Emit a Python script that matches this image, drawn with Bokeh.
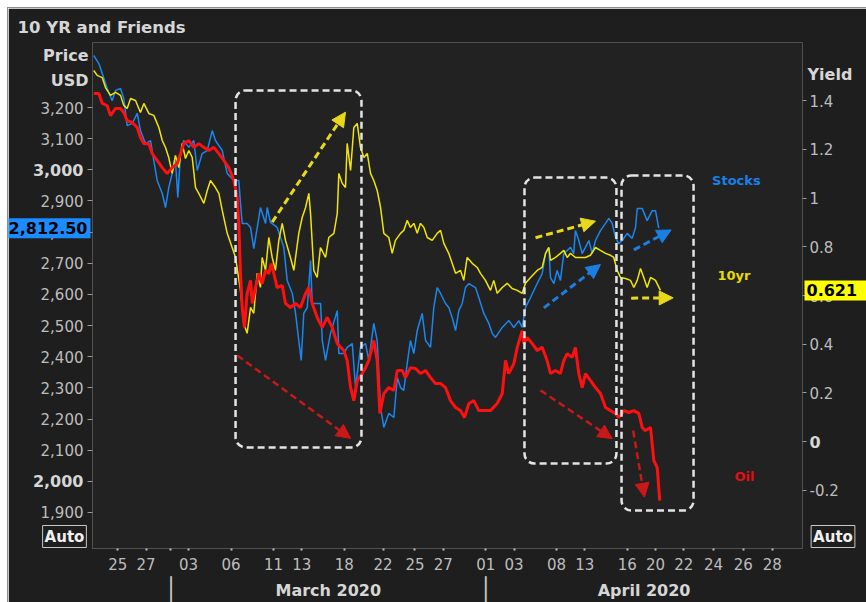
import json
from bokeh.plotting import figure
from bokeh.models import (Range1d, LinearAxis, FixedTicker, CustomJSTickFormatter,
                          Label, Arrow, NormalHead, BoxAnnotation)
from bokeh.embed import file_html
from bokeh.resources import INLINE

FONT = "DejaVu Sans"

# ---------------- data (x = trading-session index, Feb 24 2020 = 0) ----------------
stocks = [(-0.70,3367),(-0.34,3341),(-0.10,3309),(0.25,3261),(0.60,3222),(0.84,3255),(1.19,3261),
          (1.42,3229),(1.66,3142),(2.02,3149),(2.37,3181),(2.60,3126),(2.96,3084),(3.31,3094),
          (3.54,3030),(3.78,2966),(4.14,2924),(4.37,2879),(4.60,2943),(4.84,2988),(5.07,3030),
          (5.24,2911),(5.43,3052),(5.66,3094),(6.02,3072),(6.37,3094),(6.61,2998),(6.96,3052),
          (7.32,3062),(7.67,3126),(7.90,3094),(8.38,3062),(8.73,2988),(9.20,2966),(9.55,2966),
          (9.67,2892),(9.79,2828),(10.14,2828),(10.38,2815),(10.61,2747),(11.08,2879),(11.44,2828),
          (11.56,2879),(11.79,2831),(12.26,2815),(12.73,2751),(12.97,2645),(13.33,2603),(13.56,2539),
          (13.79,2452),(13.96,2388),(14.14,2539),(14.39,2558),(14.62,2709),(14.74,2571),(15.33,2571),
          (15.45,2452),(15.68,2388),(16.03,2475),(16.51,2548),(16.62,2410),(16.97,2410),(17.21,2430),
          (17.57,2442),(17.80,2301),(18.15,2430),(18.51,2442),(18.74,2388),(19.09,2507),(19.33,2452),
          (19.57,2237),(19.80,2173),(20.15,2218),(20.51,2205),(20.75,2333),(20.98,2301),(21.21,2292),
          (21.45,2378),(21.68,2452),(21.92,2410),(22.16,2484),(22.51,2539),(22.75,2452),(23.10,2430),
          (23.33,2558),(23.57,2622),(23.81,2603),(24.16,2571),(24.39,2558),(24.63,2526),(24.87,2484),
          (25.10,2548),(25.34,2571),(25.57,2622),(25.81,2635),(26.28,2622),(26.51,2590),(26.87,2539),
          (27.22,2507),(27.46,2475),(27.69,2462),(28.17,2494),(28.64,2516),(28.99,2494),(29.34,2516),
          (29.58,2494),(29.81,2558),(30.17,2590),(30.64,2635),(30.99,2667),(31.23,2731),(31.46,2751),
          (31.58,2654),(31.82,2635),(32.05,2677),(32.28,2645),(32.52,2731),(32.76,2741),(32.99,2751),
          (33.22,2731),(33.34,2805),(33.58,2773),(33.82,2731),(34.05,2751),(34.29,2773),(34.53,2731),
          (34.76,2773),(35.11,2805),(35.47,2828),(35.70,2844),(35.94,2828),(36.17,2783),(36.41,2763),
          (36.65,2773),(37.00,2796),(37.35,2780),(37.59,2815),(37.71,2876),(38.06,2876),(38.41,2837),
          (38.77,2869),(39.00,2869),(39.23,2812.5)]

ten_yr = [(-0.70,1.523),(-0.46,1.503),(-0.10,1.494),(0.13,1.453),(0.48,1.421),(0.84,1.433),(1.19,1.421),
          (1.42,1.380),(1.66,1.367),(1.90,1.408),(2.25,1.400),(2.60,1.351),(2.84,1.388),(3.19,1.347),
          (3.54,1.339),(3.90,1.289),(4.14,1.236),(4.37,1.207),(4.60,1.166),(4.84,1.101),(5.07,1.175),
          (5.31,1.125),(5.55,1.224),(5.78,1.162),(6.02,1.195),(6.26,1.166),(6.49,1.043),(6.72,1.019),
          (7.08,0.978),(7.32,1.031),(7.55,1.072),(7.90,1.043),(8.14,1.019),(8.38,0.949),(8.73,0.855),
          (9.08,0.797),(9.32,0.756),(9.67,0.621),(9.90,0.486),(10.14,0.445),(10.38,0.551),(10.61,0.527),
          (10.85,0.691),(11.08,0.633),(11.20,0.756),(11.44,0.703),(11.67,0.838),(11.91,0.756),(12.14,0.703),
          (12.38,0.826),(12.62,0.896),(12.85,0.826),(13.20,0.756),(13.44,0.703),(13.79,0.855),(14.03,0.920),
          (14.27,0.961),(14.50,1.019),(14.62,0.937),(14.85,0.703),(15.09,0.674),(15.32,0.797),(15.68,0.756),
          (15.91,0.838),(16.27,0.855),(16.51,0.937),(16.62,1.101),(16.86,1.060),(17.09,1.043),(17.21,1.224),
          (17.45,1.113),(17.68,1.289),(17.92,1.306),(18.15,1.207),(18.39,1.166),(18.63,1.183),(18.86,1.101),
          (19.09,1.072),(19.33,1.031),(19.57,0.961),(19.80,0.855),(20.15,0.838),(20.39,0.773),(20.62,0.826),
          (20.98,0.855),(21.21,0.867),(21.45,0.908),(21.68,0.879),(21.92,0.896),(22.16,0.855),(22.39,0.896),
          (22.63,0.879),(22.87,0.838),(23.22,0.826),(23.57,0.855),(23.81,0.867),(24.04,0.814),(24.39,0.773),
          (24.63,0.732),(24.87,0.691),(25.22,0.703),(25.45,0.662),(25.69,0.756),(26.05,0.732),(26.40,0.715),
          (26.63,0.691),(26.98,0.662),(27.34,0.621),(27.57,0.662),(27.81,0.609),(28.17,0.633),(28.52,0.650),
          (28.87,0.629),(29.23,0.621),(29.58,0.609),(29.81,0.650),(30.17,0.674),(30.64,0.703),(30.99,0.715),
          (31.23,0.773),(31.46,0.797),(31.58,0.744),(31.93,0.756),(32.28,0.773),(32.52,0.785),(32.76,0.756),
          (32.99,0.773),(33.34,0.756),(33.70,0.756),(34.05,0.756),(34.40,0.765),(34.76,0.797),(35.11,0.785),
          (35.47,0.773),(35.82,0.765),(36.05,0.756),(36.29,0.703),(36.53,0.674),(36.88,0.670),(37.23,0.662),
          (37.47,0.633),(37.71,0.662),(37.94,0.711),(38.17,0.674),(38.41,0.633),(38.65,0.674),(39.00,0.662),
          (39.35,0.621)]

oil = [(-0.70,3245),(-0.34,3245),(-0.10,3213),(0.25,3206),(0.48,3174),(0.84,3197),(1.19,3197),(1.42,3184),
       (1.66,3158),(2.02,3152),(2.37,3136),(2.60,3104),(2.84,3084),(3.19,3084),(3.43,3052),(3.78,3030),
       (4.14,3007),(4.49,2988),(4.84,3007),(5.20,3020),(5.43,3052),(5.66,3084),(6.02,3094),(6.37,3072),
       (6.72,3084),(7.08,3072),(7.43,3062),(7.78,3072),(8.14,3052),(8.49,3030),(8.84,3007),(9.20,2966),
       (9.44,2911),(9.55,2828),(9.67,2667),(9.79,2558),(9.95,2494),(10.14,2603),(10.38,2645),(10.50,2571),
       (10.73,2622),(10.96,2667),(11.20,2635),(11.44,2677),(11.67,2667),(11.84,2699),(12.03,2667),
       (12.26,2622),(12.62,2629),(12.85,2571),(13.20,2558),(13.56,2571),(13.91,2558),(14.27,2603),
       (14.50,2622),(14.74,2571),(15.09,2526),(15.45,2494),(15.80,2526),(16.15,2494),(16.51,2442),
       (16.97,2420),(17.21,2388),(17.45,2301),(17.68,2259),(17.92,2324),(18.27,2346),(18.51,2365),
       (18.74,2388),(19.09,2452),(19.33,2388),(19.52,2218),(19.80,2282),(20.15,2301),(20.51,2292),
       (20.75,2356),(21.10,2356),(21.33,2333),(21.68,2365),(22.04,2362),(22.39,2346),(22.75,2356),
       (23.10,2333),(23.45,2314),(23.81,2314),(24.16,2301),(24.51,2259),(24.87,2237),(25.22,2227),
       (25.50,2205),(25.81,2250),(26.16,2259),(26.51,2227),(26.87,2227),(27.34,2227),(27.81,2250),
       (28.17,2282),(28.40,2388),(28.63,2346),(28.99,2378),(29.23,2430),(29.58,2484),(29.69,2442),
       (29.93,2462),(30.29,2442),(30.64,2420),(30.99,2430),(31.34,2388),(31.58,2346),(31.93,2356),
       (32.28,2346),(32.52,2388),(32.76,2410),(33.11,2398),(33.34,2430),(33.58,2346),(33.82,2301),
       (34.05,2346),(34.40,2324),(34.76,2301),(35.11,2282),(35.47,2237),(35.82,2227),(36.17,2218),
       (36.41,2205),(36.76,2227),(37.12,2221),(37.47,2227),(37.82,2218),(38.06,2173),(38.29,2163),
       (38.65,2173),(38.88,2067),(39.12,2044),(39.30,1938)]

last_stock = 2812.50
last_yield = 0.621

price_ticks = [1900, 2000, 2100, 2200, 2300, 2400, 2500, 2600, 2700, 2800, 2900, 3000, 3100, 3200]
price_bold = [3000, 2000]
yield_ticks = [-0.2, 0.0, 0.2, 0.4, 0.6, 0.8, 1.0, 1.2, 1.4]
yield_bold = [0.0]
date_ticks = [1, 3, 4.75, 6, 9, 12, 14, 17, 19.75, 22, 24, 27, 29, 32, 34, 37, 39, 41, 43.1, 45.2, 47.25]
date_labels = ["25", "27", "", "03", "06", "11", "13", "18", "22", "25", "27",
               "01", "03", "08", "13", "16", "20", "22", "24", "26", "28"]
month_bounds = [4.75, 27.0, 49.39]
month_labels = ["March 2020", "April 2020"]

# annotations (data units): dashed arrows and dashed rounded boxes
arrows = [("y", 11.91, 2832, 17.09, 3185), ("r", 9.44, 2404, 17.45, 2138),
          ("y", 30.52, 2782, 34.76, 2835), ("b", 31.11, 2557, 35.11, 2696),
          ("b", 37.47, 2743, 40.11, 2807), ("y", 37.28, 2588, 40.25, 2589),
          ("r", 30.87, 2292, 35.94, 2137), ("r", 37.42, 2163, 38.22, 1949)]
boxes = [(9.32, 18.22, 3255, 2109), (29.74, 36.24, 2975, 2057), (36.60, 41.69, 2982, 1906)]
series_labels = [("Stocks", 43.0, 2967, "b"), ("10yr", 43.38, 2662, "y"), ("Oil", 44.58, 2016, "r")]

# ---------------- styling ----------------
C = {"b": "#1a86f0", "y": "#f2e600", "r": "#ff1010"}
C_ARROW = {"b": "#1a7fe0", "y": "#e8d81a", "r": "#c81818"}
C_LABEL = {"b": "#1a80e8", "y": "#e8dc00", "r": "#e01010"}
TICK_COL = "#bdbdbd"
BOLD_COL = "#d6d6d6"

x0, x1 = -0.79, 49.39
p0, p1 = 1784.4, 3408.7
y0, y1 = -0.438, 1.638
W, H = 858, 594

p = figure(width=W, height=H, x_range=Range1d(x0, x1), y_range=Range1d(p0, p1),
           output_backend="svg", toolbar_location=None,
           min_border_left=84, min_border_right=64, min_border_top=34, min_border_bottom=54,
           background_fill_color="#222222", border_fill_color="#1e1e1e",
           outline_line_color="#505050")
p.margin = (8, 0, 0, 8)
p.styles = {"outline": "1px solid #8c8c8c"}
p.extra_y_ranges = {"yield": Range1d(y0, y1)}
p.grid.visible = False

# pixel helpers (page pixels) for placing text around the frame
FL, FR, FT, FB = 92, 802, 42, 548
def tx(px):
    return x0 + (px - FL) / (FR - FL) * (x1 - x0)
def py(px):
    return p1 - (px - FT) / (FB - FT) * (p1 - p0)
def y2p(v):
    return p0 + (v - y0) / (y1 - y0) * (p1 - p0)

def style_axis(ax):
    ax.axis_line_color = None
    ax.minor_tick_line_color = None
    ax.major_label_text_font = FONT
    ax.major_label_text_font_size = "15px"
    ax.major_label_text_color = TICK_COL

# x axis (days)
xa = p.xaxis[0]
style_axis(xa)
xa.ticker = FixedTicker(ticks=date_ticks)
xa.formatter = CustomJSTickFormatter(code="const t=%s; const l=%s; const i=t.indexOf(tick); return i<0?'':l[i];"
                                     % (json.dumps(date_ticks), json.dumps(date_labels)))
xa.major_tick_out = 2
xa.major_tick_in = 0
xa.major_tick_line_color = "#c0c0c0"
xa.major_tick_line_width = 2
xa.major_label_standoff = 7

# left price axis
ya = p.yaxis[0]
style_axis(ya)
ya.ticker = FixedTicker(ticks=price_ticks)
ya.formatter = CustomJSTickFormatter(code="const b=%s; if (b.indexOf(tick)>=0) return ''; const s=Math.round(tick).toString(); return s.slice(0,-3)+','+s.slice(-3);"
                                     % json.dumps(price_bold))
ya.major_tick_out = 5
ya.major_tick_in = 0
ya.major_tick_line_color = "#9a9a9a"
ya.major_label_standoff = 4

# right yield axis
ra = LinearAxis(y_range_name="yield", ticker=FixedTicker(ticks=yield_ticks),
                formatter=CustomJSTickFormatter(code="const b=%s; if (b.indexOf(tick)>=0) return ''; return (Math.round(tick*10)/10).toString();"
                                                % json.dumps(yield_bold)))
style_axis(ra)
ra.major_tick_out = 4
ra.major_tick_in = 0
ra.major_tick_line_color = "#9a9a9a"
ra.major_label_standoff = 3
p.add_layout(ra, "right")

# series
p.line([t for t, v in stocks], [v for t, v in stocks], line_color=C["b"], line_width=1.5)
p.line([t for t, v in ten_yr], [v for t, v in ten_yr], line_color=C["y"], line_width=1.5, y_range_name="yield")
p.line([t for t, v in oil], [v for t, v in oil], line_color=C["r"], line_width=3)

# dashed boxes
for l, r, t, b in boxes:
    p.add_layout(BoxAnnotation(left=l, right=r, top=t, bottom=b, fill_color=None, fill_alpha=0,
                               line_color="#e4e4e4", line_alpha=1.0, line_width=2.5, line_dash="7 4",
                               border_radius=10))

# dashed arrows
for c, xs, ys, xe, ye in arrows:
    head = NormalHead(size=14, fill_color=C_ARROW[c], line_color=C_ARROW[c], line_width=1)
    p.add_layout(Arrow(end=head, x_start=xs, y_start=ys, x_end=xe, y_end=ye,
                       line_color=C_ARROW[c], line_width=3 if c != "r" else 2.5, line_dash="7 4"))

# series name labels
for txt, xv, yv, c in series_labels:
    p.add_layout(Label(x=xv, y=yv, text=txt, text_font=FONT, text_font_size="13px",
                       text_font_style="bold", text_color=C_LABEL[c], text_baseline="middle"))

# ---- transparent overlay figure (same data scale, frame = whole canvas) for texts around the frame ----
ov = figure(width=W, height=H, x_range=Range1d(tx(8), tx(8 + W)), y_range=Range1d(py(8 + H), py(8)),
            output_backend="svg", toolbar_location=None, x_axis_type=None, y_axis_type=None,
            min_border_left=0, min_border_right=0, min_border_top=0, min_border_bottom=0,
            background_fill_color=None, border_fill_color=None, outline_line_color=None)
ov.styles = {"position": "absolute", "left": "8px", "top": "8px"}
ov.grid.visible = False

def outer(s, x, y, align="left", size="16px", color=BOLD_COL, font=FONT, style="bold", **kw):
    ov.add_layout(Label(x=x, y=y, text=s, text_align=align, text_baseline="middle",
                        text_font=font, text_font_size=size, text_font_style=style,
                        text_color=color, **kw))

# bold tick labels
for v in price_bold:
    outer(f"{v:,.0f}", tx(83), v, align="right")
for v in yield_bold:
    outer(f"{v:g}", tx(809), y2p(v))

# title and axis titles
outer("10 YR and Friends", tx(17), py(27), size="16.5px")
outer("Price", tx(88), py(55), align="right")
outer("USD", tx(88), py(80), align="right")
outer("Yield", tx(807), py(74))

# month labels and separators
for i, m in enumerate(month_labels):
    outer(m, (month_bounds[i] + month_bounds[i + 1]) / 2, py(589.5), align="center")
for b in month_bounds[:-1]:
    outer("\u2502", b, py(589), align="center", size="22px", color="#c8c8c8",
          font="DejaVu Sans Mono", style="normal")

# last-value badges
badge_pad = dict(left=2, right=3, top=4, bottom=4)
outer(f"{last_stock:,.2f}", tx(90), last_stock, align="right", color="black",
      background_fill_color="#1a8cff", padding=badge_pad)
outer(f"{last_yield:.3f}", tx(804), y2p(last_yield), color="black",
      background_fill_color="#ffff00", padding=dict(left=2, right=12, top=4, bottom=4))

# "Auto" boxes
for xc in (64, 832.5):
    outer("Auto", tx(xc), py(536), align="center", size="15px", color="#f0f0f0",
          border_line_color="#c8c8c8", border_line_width=1, padding=2)

open("out.html", "w").write(file_html([p, ov], INLINE))
